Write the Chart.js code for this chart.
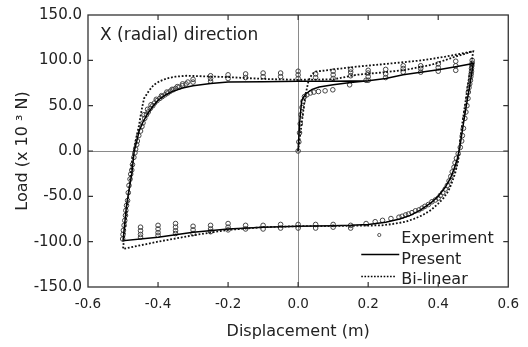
<!DOCTYPE html>
<html>
<head>
<meta charset="utf-8">
<script src="https://cdn.jsdelivr.net/npm/chart.js@4/dist/chart.umd.min.js"></script>
<style>
  html, body { margin: 0; padding: 0; background: #fff; }
  #wrap { width: 528px; height: 347px; }
</style>
</head>
<body>
<div id="wrap"><canvas id="c" width="528" height="347"></canvas></div>
<script>
// ---------- data ----------
const chartTitle = "X (radial) direction";
const xTitle = "Displacement (m)";
const yTitle = "Load (x 10 ³ N)";
const seriesNames = ["Experiment", "Present", "Bi-linear"];

// Present model (solid line): initial loading, unloading, reloading
const presentX = [0, 0.004, 0.01, 0.016, 0.025, 0.04, 0.06, 0.1, 0.15, 0.2, 0.25, 0.3, 0.4, 0.45, 0.5,
  0.49, 0.475, 0.462, 0.455, 0.445, 0.435, 0.42, 0.4, 0.38, 0.35, 0.32, 0.29, 0.25, 0.2, 0.15, 0.1, 0, -0.1, -0.2, -0.3, -0.4, -0.5,
  -0.49, -0.475, -0.468, -0.46, -0.454, -0.443, -0.43, -0.415, -0.4, -0.38, -0.36, -0.33, -0.3, -0.25, -0.2, -0.1, 0, 0.1, 0.2, 0.25, 0.3, 0.4, 0.45, 0.5];
const presentY = [0, 30, 55, 60, 64, 68, 70.5, 73, 75.5, 77.5, 80, 84, 89.5, 93, 96.5,
  72, 38, 5, -8, -20, -30, -40, -50, -57, -65, -71, -75, -78.5, -81, -82, -82.5, -83, -84, -86, -89.5, -95, -99,
  -60, -25, 0, 12, 22, 32, 41, 49, 56, 61.5, 65.5, 69.5, 72, 74.5, 76, 76.5, 77, 77, 77.5, 80, 84, 89.5, 93, 96.5];

// Bi-linear model (dotted line)
const bilinX = [0, 0.01, 0.02, 0.03, 0.04, 0.05, 0.1, 0.166, 0.25, 0.354, 0.42, 0.5,
  0.48, 0.465, 0.457, 0.448, 0.438, 0.429, 0.415, 0.4, 0.38, 0.354, 0.33, 0.307, 0.27, 0.24, 0.15, 0, -0.1, -0.2, -0.3, -0.4, -0.5,
  -0.485, -0.474, -0.469, -0.462, -0.454, -0.447, -0.44, -0.425, -0.412, -0.395, -0.375, -0.35, -0.318, -0.2, -0.1, 0, 0.1, 0.166, 0.25, 0.307, 0.38, 0.448, 0.5];
const bilinY = [0, 30, 60, 78, 85, 87.5, 90, 93, 96, 100, 104, 110,
  60, 20, -11, -25, -36, -44, -52, -58, -65, -71, -75, -78, -80.5, -82, -82.5, -83, -84, -87, -93, -100, -108,
  -50, -10, 0, 15, 29, 45, 58, 67, 73, 77, 80, 82, 83, 81.5, 79.5, 78.5, 79, 84, 87, 89.5, 95, 104, 110];

// Experiment (open circles)
const expX = [
  // initial loading
  0, 0.002, 0.004, 0.006, 0.008, 0.011, 0.014, 0.018, 0.025, 0.035, 0.045, 0.058, 0.077, 0.099, 0.147, 0.194,
  // upper plateau stacks (repeated cycles)
  -0.3, -0.3, -0.25, -0.25, -0.25, -0.2, -0.2, -0.15, -0.15, -0.1, -0.1, -0.05, -0.05, 0, 0, 0, 0.05, 0.05,
  0.1, 0.1, 0.1, 0.15, 0.15, 0.15, 0.2, 0.2, 0.2, 0.2, 0.25, 0.25, 0.25, 0.3, 0.3, 0.3, 0.35, 0.35, 0.35,
  0.4, 0.4, 0.4, 0.45, 0.45, 0.45,
  // tip and unloading branch
  0.497, 0.497, 0.496, 0.495, 0.495, 0.494, 0.493, 0.492, 0.49, 0.488, 0.486, 0.485, 0.482, 0.479, 0.476, 0.472, 0.469, 0.467, 0.463,
  0.457, 0.452, 0.448, 0.445, 0.44, 0.436, 0.431, 0.426, 0.42, 0.413, 0.406, 0.4, 0.392, 0.382, 0.372, 0.362, 0.354, 0.345, 0.335,
  0.325, 0.315, 0.307, 0.297, 0.288, 0.265, 0.241, 0.22, 0.194,
  // lower plateau stacks
  0.15, 0.15, 0.1, 0.1, 0.05, 0.05, 0, 0, -0.05, -0.05, -0.1, -0.1, -0.15, -0.15, -0.2, -0.2, -0.2, -0.25, -0.25, -0.25,
  -0.3, -0.3, -0.3, -0.35, -0.35, -0.35, -0.35, -0.4, -0.4, -0.4, -0.4, -0.45, -0.45, -0.45, -0.45,
  // reloading branch
  -0.501, -0.5, -0.499, -0.497, -0.495, -0.493, -0.492, -0.49, -0.487, -0.485, -0.483, -0.48, -0.478, -0.475, -0.473, -0.469,
  -0.466, -0.464, -0.461, -0.459, -0.455, -0.45, -0.446, -0.443, -0.438, -0.433, -0.428, -0.422, -0.415, -0.41, -0.403, -0.395,
  -0.388, -0.38, -0.372, -0.365, -0.357, -0.35, -0.34, -0.33, -0.32,
  -0.44, -0.43, -0.42, -0.405, -0.39, -0.375, -0.36, -0.345, -0.33, -0.315
];
const expY = [
  0, 10, 20, 30, 40, 48, 55, 60, 62, 64, 65, 65.6, 66.4, 67.5, 73, 78,
  76, 79, 77, 80, 83, 80, 84, 81, 85, 82, 86, 82, 86, 80, 84, 88, 81, 85,
  80, 84, 88, 83, 87, 90, 78, 82, 86, 89, 81, 85, 90, 87, 91, 94, 87, 91, 94,
  88, 92, 96, 89, 94, 99,
  100, 97, 94, 91, 88, 85, 82, 78, 74, 70, 65, 58, 50, 43, 36, 25, 17, 11, 4,
  -3, -8, -13, -18, -23, -28, -33, -38, -42, -46, -49, -52, -54, -56, -59, -61, -63, -65, -66,
  -68, -69.5, -70.5, -72, -73, -74.5, -76.5, -78, -80,
  -82, -85, -81, -84, -81, -85, -81, -85, -81, -85, -82, -86, -82, -86, -80, -84, -87, -82, -86, -89,
  -83, -87, -91, -80, -84, -88, -91, -82, -86, -90, -93, -84, -88, -92, -95,
  -97, -92, -87.5, -82, -76.6, -71, -65.6, -60, -54.7, -46, -38, -31, -25.5, -21, -15, -7,
  -2, 2, 7, 11, 17, 22, 27, 31, 36, 40, 43, 47, 50, 53, 55.5, 58,
  60, 62, 64, 66, 67.5, 69, 70.5, 72, 74,
  40, 46, 51, 57, 61, 65, 68, 71, 74, 76
];

const xTicks = [-0.6, -0.4, -0.2, 0, 0.2, 0.4, 0.6];
const yTicks = [-150, -100, -50, 0, 50, 100, 150];

// ---------- chart ----------
const toPts = (xs, ys) => xs.map((x, i) => ({ x: x, y: ys[i] }));
const FONT = "'DejaVu Sans', sans-serif";
const INK = '#222';

const framePlugin = {
  id: 'frame',
  afterDatasetsDraw(chart) {
    const { ctx, chartArea: a, scales: { x, y } } = chart;
    ctx.save();
    // frame
    ctx.strokeStyle = '#333';
    ctx.lineWidth = 1.3;
    ctx.strokeRect(a.left, a.top, a.right - a.left, a.bottom - a.top);
    // inward tick marks on all four sides
    ctx.lineWidth = 1.2;
    const tl = 5;
    ctx.beginPath();
    xTicks.forEach(v => {
      if (v === xTicks[0] || v === xTicks[xTicks.length - 1]) return;
      const px = x.getPixelForValue(v);
      ctx.moveTo(px, a.bottom); ctx.lineTo(px, a.bottom - tl);
      ctx.moveTo(px, a.top); ctx.lineTo(px, a.top + tl);
    });
    yTicks.forEach(v => {
      if (v === yTicks[0] || v === yTicks[yTicks.length - 1]) return;
      const py = y.getPixelForValue(v);
      ctx.moveTo(a.left, py); ctx.lineTo(a.left + tl, py);
      ctx.moveTo(a.right, py); ctx.lineTo(a.right - tl, py);
    });
    ctx.stroke();

    // title inside plot
    ctx.fillStyle = INK;
    ctx.font = "17px " + FONT;
    ctx.textAlign = 'left';
    ctx.textBaseline = 'alphabetic';
    ctx.fillText(chartTitle, a.left + 12, a.top + 25);

    // legend inside plot, bottom right
    ctx.font = "16px " + FONT;
    const tx = a.right - 107;
    const rows = [a.bottom - 44, a.bottom - 23.5, a.bottom - 3];
    ctx.fillText(seriesNames[0], tx, rows[0]);
    ctx.fillText(seriesNames[1], tx, rows[1]);
    ctx.fillText(seriesNames[2], tx, rows[2]);
    // experiment marker
    ctx.strokeStyle = '#555';
    ctx.lineWidth = 1;
    ctx.beginPath();
    ctx.arc(tx - 22, rows[0] - 8, 1.6, 0, Math.PI * 2);
    ctx.stroke();
    // present line sample
    ctx.strokeStyle = '#000';
    ctx.lineWidth = 1.3;
    ctx.beginPath();
    ctx.moveTo(tx - 40, rows[1] - 9); ctx.lineTo(tx - 2, rows[1] - 9);
    ctx.stroke();
    // bi-linear line sample
    ctx.setLineDash([1.6, 1.6]);
    ctx.lineWidth = 1.5;
    ctx.beginPath();
    ctx.moveTo(tx - 40, rows[2] - 7.5); ctx.lineTo(tx - 5, rows[2] - 7.5);
    ctx.stroke();
    ctx.restore();
  }
};

new Chart(document.getElementById('c'), {
  type: 'scatter',
  data: {
    datasets: [
      {
        label: seriesNames[0],
        data: toPts(expX, expY),
        showLine: false,
        pointStyle: 'circle',
        pointRadius: 2.3,
        borderWidth: 1,
        borderColor: '#444',
        backgroundColor: 'rgba(0,0,0,0)',
        order: 3
      },
      {
        label: seriesNames[1],
        data: toPts(presentX, presentY),
        showLine: true,
        pointRadius: 0,
        borderColor: '#000',
        borderWidth: 1.5,
        tension: 0,
        order: 2
      },
      {
        label: seriesNames[2],
        data: toPts(bilinX, bilinY),
        showLine: true,
        pointRadius: 0,
        borderColor: '#111',
        borderWidth: 1.8,
        borderDash: [1.8, 1.8],
        tension: 0,
        order: 1
      }
    ]
  },
  options: {
    responsive: false,
    devicePixelRatio: 1,
    animation: false,
    layout: { padding: { left: 0, right: 14, top: 13, bottom: 0 } },
    plugins: { legend: { display: false }, tooltip: { enabled: false }, title: { display: false } },
    scales: {
      x: {
        type: 'linear',
        min: -0.6, max: 0.6,
        afterBuildTicks: s => { s.ticks = xTicks.map(v => ({ value: v })); },
        afterFit: s => { s.height = 60; },
        border: { display: false },
        grid: {
          drawTicks: false,
          color: c => (c.tick && c.tick.value === 0) ? '#8a8a8a' : 'rgba(0,0,0,0)',
          lineWidth: 1
        },
        ticks: {
          padding: 9,
          color: INK,
          font: { family: FONT, size: 13.5 },
          callback: v => Number(v).toFixed(1),
          maxRotation: 0
        },
        title: {
          display: true,
          text: xTitle,
          color: INK,
          font: { family: FONT, size: 16 },
          padding: { top: 0, bottom: 6 }
        }
      },
      y: {
        type: 'linear',
        min: -150, max: 150,
        afterBuildTicks: s => { s.ticks = yTicks.map(v => ({ value: v })); },
        afterFit: s => { s.width = 88; },
        border: { display: false },
        grid: {
          drawTicks: false,
          color: c => (c.tick && c.tick.value === 0) ? '#8a8a8a' : 'rgba(0,0,0,0)',
          lineWidth: 1
        },
        ticks: {
          padding: 6,
          color: INK,
          font: { family: FONT, size: 15 },
          callback: v => Number(v).toFixed(1)
        },
        title: {
          display: true,
          text: yTitle,
          color: INK,
          font: { family: FONT, size: 16 },
          padding: { top: 13, bottom: 0 }
        }
      }
    }
  },
  plugins: [framePlugin]
});
</script>
</body>
</html>
